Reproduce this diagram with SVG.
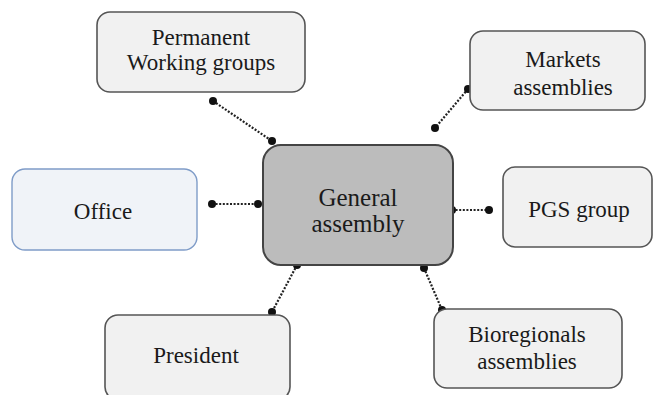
<svg xmlns="http://www.w3.org/2000/svg" width="654" height="395" viewBox="0 0 654 395">
<defs>
<style>
.box{fill:#f1f1f1;stroke:#555;stroke-width:1.6}
.office{fill:#f0f3f8;stroke:#7f9cc8;stroke-width:1.4}
.main{fill:#bcbcbc;stroke:#444;stroke-width:2}
text{font-family:"Liberation Serif","Times New Roman","DejaVu Serif",serif;fill:#1a1a1a;text-anchor:middle}
.t{font-size:23px}
.tm{font-size:25px}
.c{stroke:#222;stroke-width:2.2;stroke-dasharray:2 1.6;fill:none}
.d{fill:#111}
</style>
</defs>
<rect width="654" height="395" fill="#fff"/>
<g id="connectors">
<line class="c" x1="213" y1="101" x2="272" y2="141"/>
<circle class="d" cx="213" cy="101" r="4"/><circle class="d" cx="272" cy="141" r="4"/>
<line class="c" x1="468" y1="89" x2="435" y2="128"/>
<circle class="d" cx="468" cy="89" r="4"/><circle class="d" cx="435" cy="128" r="4"/>
<line class="c" x1="212" y1="204" x2="258" y2="204"/>
<circle class="d" cx="212" cy="204" r="4"/><circle class="d" cx="258" cy="204" r="4"/>
<line class="c" x1="452" y1="210" x2="489" y2="210"/>
<circle class="d" cx="452" cy="210" r="4"/><circle class="d" cx="489" cy="210" r="4"/>
<line class="c" x1="297" y1="265" x2="272" y2="312"/>
<circle class="d" cx="297" cy="265" r="4"/><circle class="d" cx="272" cy="312" r="4"/>
<line class="c" x1="424" y1="268" x2="442" y2="310"/>
<circle class="d" cx="424" cy="268" r="4"/><circle class="d" cx="442" cy="310" r="4"/>
</g>
<g id="permanent">
<rect class="box" x="97" y="12" width="208" height="80" rx="13"/>
<text class="t" x="201" y="45">Permanent</text>
<text class="t" x="201" y="70">Working groups</text>
</g>
<g id="markets">
<rect class="box" x="470" y="31" width="175" height="79" rx="13"/>
<text class="t" x="563" y="67">Markets</text>
<text class="t" x="563" y="95">assemblies</text>
</g>
<g id="office">
<rect class="office" x="12" y="169" width="185" height="81" rx="13"/>
<text class="t" x="103" y="219">Office</text>
</g>
<g id="general">
<rect class="main" x="263" y="145" width="190" height="120" rx="18"/>
<text class="tm" x="358" y="206">General</text>
<text class="tm" x="358" y="232">assembly</text>
</g>
<g id="pgs">
<rect class="box" x="503" y="167" width="149" height="80" rx="12"/>
<text class="t" x="579" y="217">PGS group</text>
</g>
<g id="president">
<rect class="box" x="105" y="315" width="185" height="85" rx="13"/>
<text class="t" x="196" y="363">President</text>
</g>
<g id="bioregionals">
<rect class="box" x="434" y="309" width="188" height="79" rx="13"/>
<text class="t" x="527" y="342">Bioregionals</text>
<text class="t" x="527" y="369">assemblies</text>
</g>
</svg>
